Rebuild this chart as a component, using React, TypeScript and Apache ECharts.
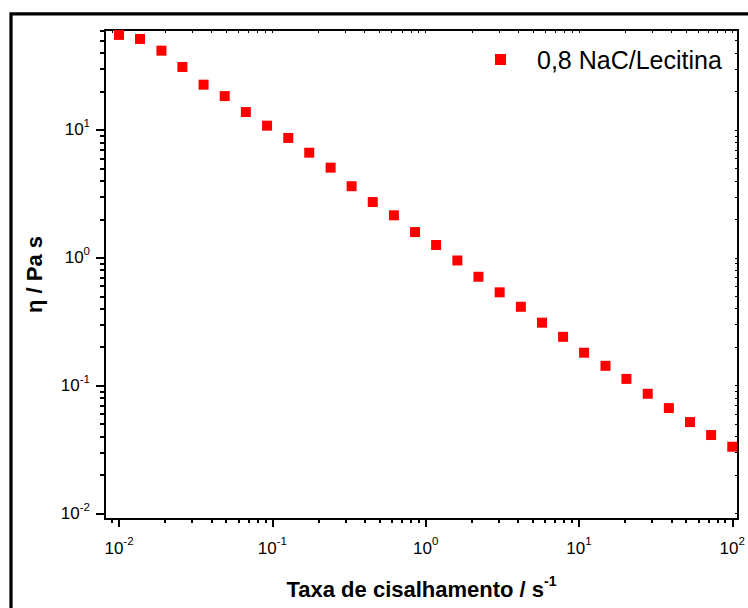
import React, { useEffect, useRef } from 'react';
import * as echarts from 'echarts';

// ---- data ----
const seriesName = '0,8 NaC/Lecitina';
const shearRate = [
  0.01, 0.0137, 0.0189, 0.0259, 0.0356, 0.0489, 0.0672, 0.0924, 0.127, 0.174,
  0.24, 0.329, 0.452, 0.621, 0.853, 1.17, 1.61, 2.21, 3.04, 4.18,
  5.74, 7.88, 10.8, 14.9, 20.4, 28.1, 38.6, 53.0, 72.8, 100,
];
const viscosity = [
  55.4, 51.5, 41.7, 31.1, 22.6, 18.4, 13.8, 10.8, 8.66, 6.64,
  5.07, 3.63, 2.73, 2.15, 1.59, 1.26, 0.953, 0.711, 0.537, 0.414,
  0.311, 0.241, 0.181, 0.143, 0.113, 0.0864, 0.0668, 0.0519, 0.0411, 0.0333,
];

const xRange = [0.0081, 109];
const yRange = [0.00906, 60.5];

const xMajorTicks = [0.01, 0.1, 1, 10, 100];
const xMinorTicks = [
  0.009,
  0.02, 0.03, 0.04, 0.05, 0.06, 0.07, 0.08, 0.09,
  0.2, 0.3, 0.4, 0.5, 0.6, 0.7, 0.8, 0.9,
  2, 3, 4, 5, 6, 7, 8, 9,
  20, 30, 40, 50, 60, 70, 80, 90,
];
const yMajorTicks = [0.01, 0.1, 1, 10];
const yMinorTicks = [
  0.02, 0.03, 0.04, 0.05, 0.06, 0.07, 0.08, 0.09,
  0.2, 0.3, 0.4, 0.5, 0.6, 0.7, 0.8, 0.9,
  2, 3, 4, 5, 6, 7, 8, 9,
  20, 30, 40, 50, 60,
];

const xTitle = 'Taxa de cisalhamento / s';
const xTitleSup = '-1';
const yTitle = 'η / Pa s';

const FONT = '"Liberation Sans", Arial, Helvetica, sans-serif';

const powLabel = (v: number) => {
  const e = Math.round(Math.log10(v));
  return `{b|10}{s|${e}}`;
};

const labelRich = {
  b: { fontSize: 17, fontFamily: FONT, color: '#000', lineHeight: 26 },
  s: { fontSize: 11.5, fontFamily: FONT, color: '#000', verticalAlign: 'top' as const },
};

const tickStyle = { color: '#000', width: 2 };

function buildOption() {
  const common = { type: 'log' as const, logBase: 10, gridIndex: 0, splitLine: { show: false }, minorTick: { show: false } };
  return {
    animation: false,
    backgroundColor: '#fff',
    graphic: [
      {
        type: 'rect',
        shape: { x: 11, y: 13.8, width: 820, height: 720 },
        style: { fill: 'none', stroke: '#000', lineWidth: 3.2 },
        silent: true,
      },
    ],
    grid: { left: 105, top: 30, width: 633, height: 489, containLabel: false },
    legend: {
      show: true,
      data: [seriesName],
      left: 495,
      top: 47,
      padding: 0,
      icon: 'rect',
      itemWidth: 11,
      itemHeight: 11,
      itemStyle: { opacity: 1 },
      textStyle: { fontSize: 25, fontFamily: FONT, color: '#000', padding: [0, 0, 0, 26] },
    },
    xAxis: [
      {
        ...common,
        min: xRange[0],
        max: xRange[1],
        position: 'bottom',
        name: `{t|${xTitle}}{s|${xTitleSup}}`,
        nameLocation: 'middle',
        nameGap: 55,
        nameTextStyle: {
          rich: {
            t: { fontSize: 22, fontWeight: 'bold', fontFamily: FONT, color: '#000', lineHeight: 30 },
            s: { fontSize: 14, fontWeight: 'bold', fontFamily: FONT, color: '#000', verticalAlign: 'top' },
          },
        },
        axisLine: { show: true, onZero: false, lineStyle: tickStyle },
        axisTick: { show: true, inside: false, length: 8, customValues: xMajorTicks, lineStyle: tickStyle },
        axisLabel: { show: true, customValues: xMajorTicks, formatter: powLabel, rich: labelRich, margin: 16 },
      },
      {
        ...common,
        min: xRange[0],
        max: xRange[1],
        position: 'bottom',
        axisLine: { show: false, onZero: false },
        axisTick: { show: true, inside: false, length: 4, customValues: xMinorTicks, lineStyle: tickStyle },
        axisLabel: { show: false },
      },
      {
        ...common,
        min: xRange[0],
        max: xRange[1],
        position: 'top',
        axisLine: { show: true, onZero: false, lineStyle: tickStyle },
        axisTick: { show: true, inside: true, length: 3, customValues: [...xMajorTicks, ...xMinorTicks], lineStyle: { color: '#000', width: 1 } },
        axisLabel: { show: false },
      },
    ],
    yAxis: [
      {
        ...common,
        min: yRange[0],
        max: yRange[1],
        position: 'left',
        name: yTitle,
        nameLocation: 'middle',
        nameGap: 60,
        nameTextStyle: { fontSize: 22, fontWeight: 'bold', fontFamily: FONT, color: '#000' },
        axisLine: { show: true, onZero: false, lineStyle: tickStyle },
        axisTick: { show: true, inside: false, length: 9, customValues: yMajorTicks, lineStyle: tickStyle },
        axisLabel: { show: true, customValues: yMajorTicks, formatter: powLabel, rich: labelRich, margin: 15 },
      },
      {
        ...common,
        min: yRange[0],
        max: yRange[1],
        position: 'left',
        axisLine: { show: false, onZero: false },
        axisTick: { show: true, inside: false, length: 5, customValues: yMinorTicks, lineStyle: tickStyle },
        axisLabel: { show: false },
      },
      {
        ...common,
        min: yRange[0],
        max: yRange[1],
        position: 'right',
        axisLine: { show: true, onZero: false, lineStyle: tickStyle },
        axisTick: { show: true, inside: true, length: 3, customValues: [...yMajorTicks, ...yMinorTicks], lineStyle: { color: '#000', width: 1 } },
        axisLabel: { show: false },
      },
    ],
    series: [
      {
        name: seriesName,
        type: 'scatter',
        xAxisIndex: 0,
        yAxisIndex: 0,
        symbol: 'rect',
        symbolSize: 10,
        itemStyle: { color: '#ff0000', opacity: 1 },
        data: shearRate.map((x, i) => [x, viscosity[i]]),
      },
    ],
  };
}

export default function App() {
  const ref = useRef<HTMLDivElement>(null);
  useEffect(() => {
    if (!ref.current) return;
    const chart = echarts.init(ref.current, null, { renderer: 'svg' });
    chart.setOption(buildOption() as any);
    return () => chart.dispose();
  }, []);
  return (
    <div
      ref={ref}
      style={{ position: 'absolute', left: 0, top: 0, width: 748, height: 608, background: '#fff' }}
    />
  );
}
